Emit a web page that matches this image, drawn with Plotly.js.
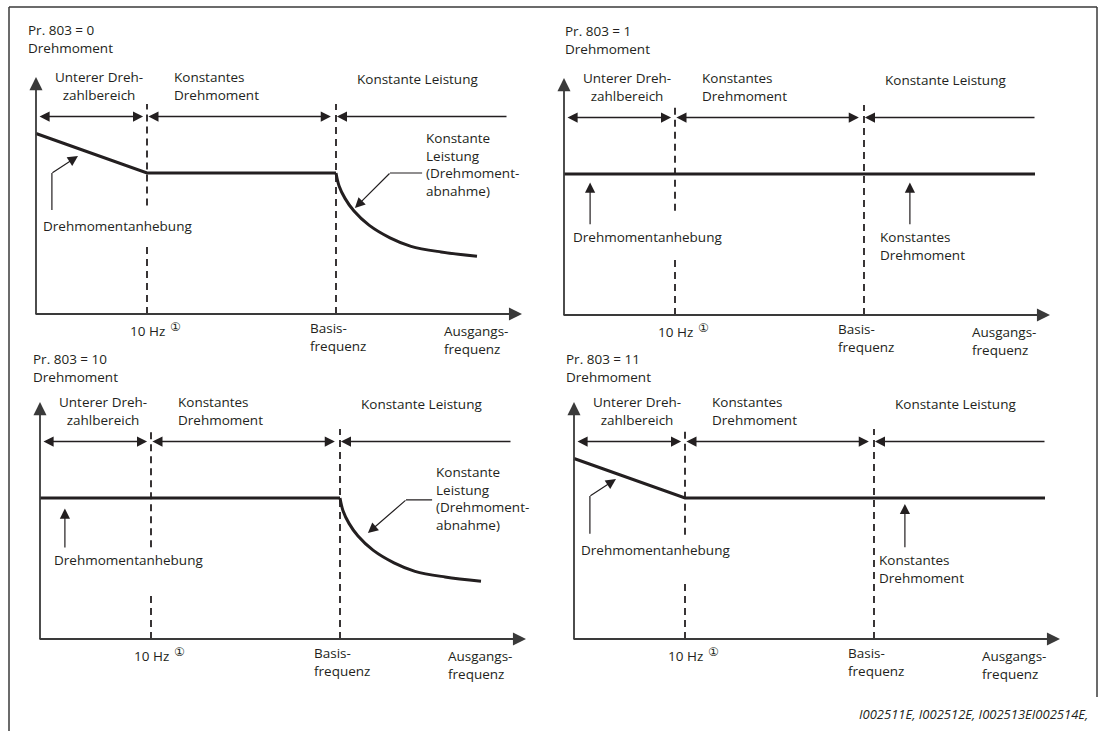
<!DOCTYPE html>
<html>
<head>
<meta charset="utf-8">
<script src="https://cdn.plot.ly/plotly-3.0.1.min.js"></script>
<style>
  html, body { margin: 0; padding: 0; background: #fff; }
  #plot { width: 1106px; height: 731px; }
</style>
</head>
<body>
<div id="plot"></div>
<script>
// Pr. 803 settings, one panel each
const panelTitles = ['Pr. 803 = 0', 'Pr. 803 = 1', 'Pr. 803 = 10', 'Pr. 803 = 11']
const yTitle = 'Drehmoment'
const hasBoost = [true, false, false, true]
const hasConstPower = [true, false, true, false]

// frequency in % of base frequency
const freq10Hz = 37
const freqBase = 100
const freqEnd = 157
// torque in % of rated torque
const torqueRated = 100
const torqueBoostStart = 128
// constant power (torque drop) curve
const cpFreq = [100, 101, 103, 106, 111, 118, 125, 135, 147]
const cpTorque = [100, 91, 82, 73, 63, 54, 48, 44, 41]

// texts
const regionLabels = [['Unterer Dreh-', 'zahlbereich'], ['Konstantes', 'Drehmoment'], ['Konstante Leistung']]
const tickLabels = ['10 Hz', ['Basis-', 'frequenz'], ['Ausgangs-', 'frequenz']]
const noteMark = '\u2460'
const boostLabel = 'Drehmomentanhebung'
const cpLabel = ['Konstante', 'Leistung', '(Drehmoment-', 'abnahme)']
const ctLabel = ['Konstantes', 'Drehmoment']
const footer = 'I002511E, I002512E, I002513EI002514E,'

// ---- layout ----
const W = 1106, H = 731
const PX_X = 3.0, PX_Y = 1.41
const XR = [-12, 168], YR = [-45, 210]
const origins = [[36, 314], [564, 315], [40, 639], [574, 639]]
const ink = '#231f20', axisInk = '#3a3a3a'
const FONT = 'Open Sans, Noto Sans, sans-serif'
const FS = 13.5

// label positions per panel (panel units, y = middle of the text block)
const pos = [
    { head: [-3, 195.3], gap: [49, 77], boostText: [2, 62.4],
      boostPtr: [[5.3, 73.8], [5.3, 100], [14, 112]],
      cpText: [129.7, 106], cpPtr: [[128.7, 100], [118, 100], [106.3, 75.2]] },
    { head: [0, 195], gap: [42, 74], boostText: [2.7, 55.3],
      boostPtr: [[8.7, 64], [8.7, 94]],
      ctText: [105, 49], ctPtr: [[115.3, 64], [115.3, 94]] },
    { head: [-2.7, 192], gap: [33, 65], boostText: [4.3, 56],
      boostPtr: [[8.3, 64.5], [8.3, 92.5]],
      cpText: [131.7, 100], cpPtr: [[130.7, 98.6], [122, 98.6], [109.3, 75.2]] },
    { head: [-3, 192], gap: [42, 74], boostText: [2, 63],
      boostPtr: [[5.3, 74.6], [5.3, 101.4], [14, 113.4]],
      ctText: [101.3, 49.6], ctPtr: [[110.3, 64.8], [110.3, 95.8]] },
]

const layout = {
    width: W, height: H,
    margin: { l: 0, r: 0, t: 0, b: 0 },
    paper_bgcolor: '#fff', plot_bgcolor: 'rgba(0,0,0,0)',
    showlegend: false, hovermode: false,
    annotations: [], shapes: [],
}
const data = []

function txt(n, x, y, lines, opts) {
    const text = Array.isArray(lines) ? lines.join('<br>') : lines
    layout.annotations.push(Object.assign({
        xref: 'x' + n, yref: 'y' + n, x: x, y: y, text: text, showarrow: false,
        xanchor: 'left', yanchor: 'middle', align: 'left', borderpad: 0,
        font: { family: FONT, size: FS, color: ink },
    }, opts || {}))
}

function arrow(n, tail, head, opts) {
    layout.annotations.push(Object.assign({
        xref: 'x' + n, yref: 'y' + n, axref: 'x' + n, ayref: 'y' + n,
        x: head[0], y: head[1], ax: tail[0], ay: tail[1],
        text: '', showarrow: true, arrowhead: 2, arrowsize: 1.7, arrowwidth: 1.2,
        arrowcolor: ink, font: { size: 1 }, borderpad: 0,
    }, opts || {}))
}

function line(n, xs, ys, width, extra) {
    data.push({
        type: 'scatter', mode: 'lines', x: xs, y: ys,
        xaxis: 'x' + n, yaxis: 'y' + n, hoverinfo: 'skip',
        line: Object.assign({ color: ink, width: width }, extra || {}),
    })
}

origins.forEach(function ([ox, oy], i) {
    const n = i === 0 ? '' : String(i + 1)
    const p = pos[i]
    layout['xaxis' + n] = {
        domain: [(ox + XR[0] * PX_X) / W, (ox + XR[1] * PX_X) / W],
        range: XR, visible: false, fixedrange: true, anchor: 'y' + n,
    }
    layout['yaxis' + n] = {
        domain: [1 - (oy - YR[0] * PX_Y) / H, 1 - (oy - YR[1] * PX_Y) / H],
        range: YR, visible: false, fixedrange: true, anchor: 'x' + n,
    }

    // header
    txt(n, p.head[0], p.head[1], [panelTitles[i], yTitle])

    // dashed frequency marks
    const dash = { dash: '7px,5px' }
    line(n, [freq10Hz, freq10Hz], [0, p.gap[0]], 1.8, dash)
    line(n, [freq10Hz, freq10Hz], [p.gap[1], 149], 1.8, dash)
    line(n, [freqBase, freqBase], [0, 149], 1.8, dash)

    // axes with arrow heads
    arrow(n, [0, -0.6], [0, 168], { arrowwidth: 1.8, arrowsize: 1.45, arrowcolor: axisInk })
    arrow(n, [-0.3, 0], [162, 0], { arrowwidth: 1.8, arrowsize: 1.45, arrowcolor: axisInk })

    // region arrows
    const rOpts = { arrowwidth: 1.5, arrowsize: 1.35 }
    const both = { arrowside: 'end+start', startarrowhead: 2, startarrowsize: 1.35 }
    arrow(n, [1, 140], [35.7, 140], Object.assign({}, both, rOpts))
    arrow(n, [37.3, 140], [98.3, 140], Object.assign({}, both, rOpts))
    arrow(n, [freqEnd, 140], [100.3, 140], rOpts)
    txt(n, 21, 161.5, regionLabels[0], { xanchor: 'center', align: 'center' })
    txt(n, 45.5, 161.5, regionLabels[1])
    txt(n, 127, 167, regionLabels[2][0], { xanchor: 'center' })

    // torque characteristic
    const t0 = hasBoost[i] ? torqueBoostStart : torqueRated
    if (hasConstPower[i]) {
        line(n, [0, freq10Hz, freqBase], [t0, torqueRated, torqueRated], 3)
        line(n, cpFreq, cpTorque, 3, { shape: 'spline' })
    } else {
        line(n, [0, freq10Hz, freqBase, freqEnd], [t0, torqueRated, torqueRated, torqueRated], 3)
    }

    // torque boost pointer
    const bp = p.boostPtr
    if (bp.length === 3) {
        line(n, [bp[0][0], bp[1][0]], [bp[0][1], bp[1][1]], 1.2)
        arrow(n, bp[1], bp[2])
    } else {
        arrow(n, bp[0], bp[1])
    }
    txt(n, p.boostText[0], p.boostText[1], boostLabel)

    if (p.cpText) {
        txt(n, p.cpText[0], p.cpText[1], cpLabel)
        const cp = p.cpPtr
        line(n, [cp[0][0], cp[1][0]], [cp[0][1], cp[1][1]], 1.2)
        arrow(n, cp[1], cp[2])
    }
    if (p.ctText) {
        txt(n, p.ctText[0], p.ctText[1], ctLabel)
        arrow(n, p.ctPtr[0], p.ctPtr[1])
    }

    // x axis labels
    txt(n, 37, -12, tickLabels[0], { xanchor: 'center' })
    txt(n, 46.5, -9.5, noteMark, { xanchor: 'center', font: { family: 'DejaVu Sans', size: 12, color: ink } })
    txt(n, 91, -16.5, tickLabels[1])
    txt(n, 135.5, -18.5, tickLabels[2])
})

// frame
const frame = { color: axisInk, width: 1.5 }
layout.shapes.push({ type: 'line', xref: 'paper', yref: 'paper', x0: 9 / W, x1: 1097 / W, y0: 1 - 7 / H, y1: 1 - 7 / H, line: frame })
layout.shapes.push({ type: 'line', xref: 'paper', yref: 'paper', x0: 9 / W, x1: 9 / W, y0: 1 - 7 / H, y1: 0, line: frame })
layout.shapes.push({ type: 'line', xref: 'paper', yref: 'paper', x0: 1097 / W, x1: 1097 / W, y0: 1 - 7 / H, y1: 1 - 697 / H, line: frame })

layout.annotations.push({
    xref: 'paper', yref: 'paper', x: 1090 / W, y: 1 - 714 / H,
    xanchor: 'right', yanchor: 'middle', showarrow: false,
    text: '<i>' + footer + '</i>', font: { family: FONT, size: 13, color: ink },
})

Plotly.newPlot('plot', data, layout, { staticPlot: true, displayModeBar: false })
</script>
</body>
</html>
